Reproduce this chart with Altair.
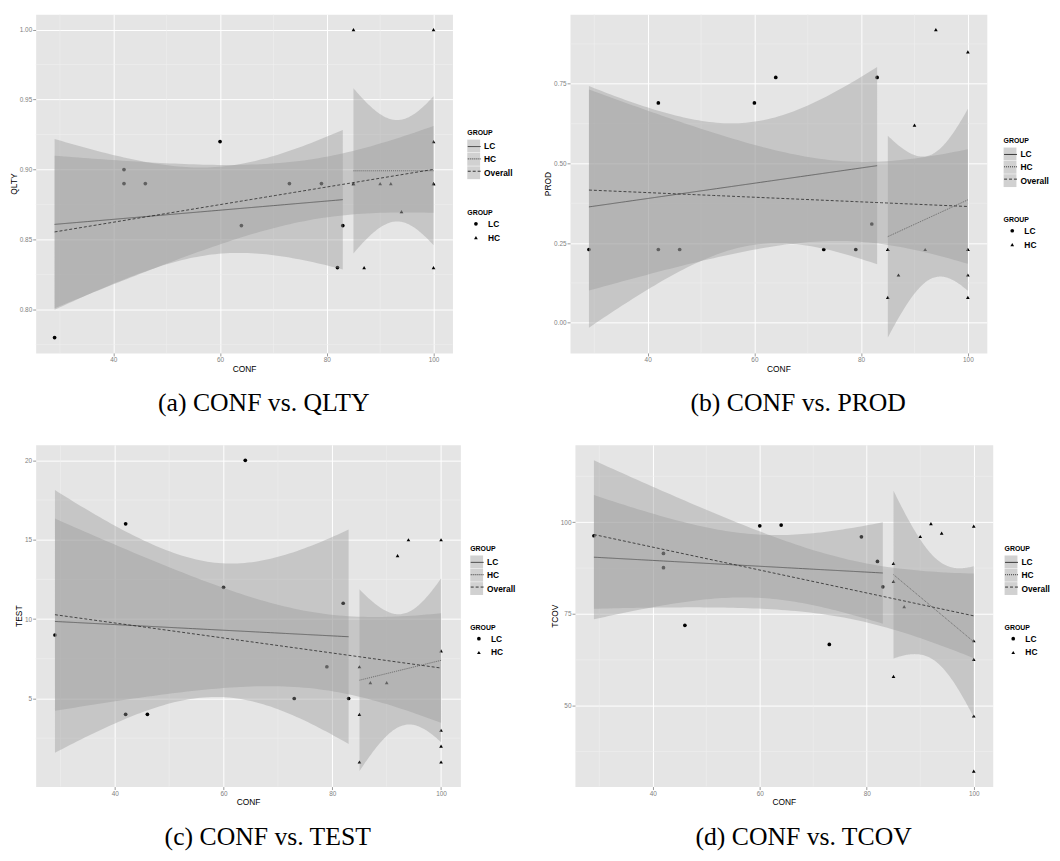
import altair as alt
import numpy as np
import pandas as pd

# ---------------- data ----------------
CONF_LC = [29, 42, 42, 46, 60, 64, 73, 79, 82, 83]
CONF_HC = [85, 85, 85, 87, 90, 92, 94, 100, 100, 100, 100, 100]

QLTY_LC = [0.78, 0.90, 0.89, 0.89, 0.92, 0.86, 0.89, 0.89, 0.83, 0.86]
QLTY_HC = [1.00, 0.89, 0.89, 0.83, 0.89, 0.89, 0.87, 1.00, 0.92, 0.89, 0.89, 0.83]

PROD_LC = [0.23, 0.69, 0.23, 0.23, 0.69, 0.77, 0.23, 0.23, 0.31, 0.77]
PROD_HC = [0.23, 0.23, 0.08, 0.15, 0.62, 0.23, 0.92, 0.85, 0.23, 0.23, 0.15, 0.08]

TEST_LC = [9, 16, 4, 4, 12, 20, 5, 7, 11, 5]
TEST_HC = [7, 4, 1, 6, 6, 14, 15, 15, 8, 3, 2, 1]

TCOV_LC = [96.3, 91.5, 87.6, 71.9, 99.0, 99.2, 66.7, 96.0, 89.3, 82.4]
TCOV_HC = [88.8, 83.9, 58.0, 77.0, 96.1, 99.6, 97.0, 98.9, 67.7, 62.6, 47.2, 32.2]

X_TICKS = [40, 60, 80, 100]
X_MINOR = [30, 50, 70, 90]

SERIES = ["LC", "HC", "Overall"]
SERIES_KEY = ["LC ", "HC ", "Overall "]   # separate domain for the line-type keys
GROUPS = ["LC", "HC"]

# t quantiles (0.975) for the lm confidence band
T975 = {8: 2.306004, 10: 2.228139, 20: 2.085963}


def smooth(x, y, label):
    x = np.asarray(x, float)
    y = np.asarray(y, float)
    n = len(x)
    xm, ym = x.mean(), y.mean()
    sxx = ((x - xm) ** 2).sum()
    b = ((x - xm) * (y - ym)).sum() / sxx
    a = ym - b * xm
    s = np.sqrt(((y - a - b * x) ** 2).sum() / (n - 2))
    g = np.linspace(x.min(), x.max(), 80)
    fit = a + b * g
    se = s * np.sqrt(1.0 / n + (g - xm) ** 2 / sxx)
    t = T975[n - 2]
    return pd.DataFrame({"conf": g, "fit": fit, "lo": fit - t * se,
                         "hi": fit + t * se, "series": label, "key": label + " "})


XDOM = [29 - 0.05 * 71, 100 + 0.05 * 71]
FONT = "Liberation Sans"


def panel(name, ylc, yhc, yticks, yminor, yfmt, caption, w, h, lx, ly1, ly2):
    pts = pd.DataFrame({
        "conf": CONF_LC + CONF_HC,
        "value": ylc + yhc,
        "group": ["LC"] * len(ylc) + ["HC"] * len(yhc),
    })
    bands = pd.concat([
        smooth(CONF_LC, ylc, "LC"),
        smooth(CONF_HC, yhc, "HC"),
        smooth(CONF_LC + CONF_HC, ylc + yhc, "Overall"),
    ], ignore_index=True)
    lo = min(pts["value"].min(), bands["lo"].min())
    hi = max(pts["value"].max(), bands["hi"].max())
    pad = (hi - lo) * 0.05
    ydom = [lo - pad, hi + pad]

    xs = alt.Scale(domain=XDOM, nice=False, zero=False)
    ys = alt.Scale(domain=ydom, nice=False, zero=False)
    xax = alt.Axis(values=X_TICKS, title="CONF", format="d")
    yax = alt.Axis(values=yticks, title=name, format=yfmt)

    leg_fill = alt.Legend(title="GROUP", orient="none", legendX=lx, legendY=ly1,
                          symbolType="square", symbolSize=169, symbolOpacity=0.45,
                          symbolStrokeWidth=0, labelOffset=4, rowPadding=0.5, zindex=0)
    leg_dash = alt.Legend(title="GROUP", orient="none", legendX=lx, legendY=ly1,
                          symbolType="stroke", symbolSize=169, symbolStrokeColor="#333333",
                          symbolStrokeWidth=1, titleOpacity=0, labelOpacity=0,
                          labelOffset=4, rowPadding=0.5, zindex=1)
    leg_shape = alt.Legend(title="GROUP", orient="none", legendX=lx, legendY=ly2,
                           symbolSize=14, symbolFillColor="black", symbolStrokeWidth=0,
                           symbolOpacity=1, symbolOffset=4.5, labelOffset=8, rowPadding=5)

    minor_x = alt.Chart(pd.DataFrame({"v": X_MINOR})).mark_rule(
        color="#F0F0F0", strokeWidth=0.6).encode(x=alt.X("v:Q", scale=xs, axis=xax))
    minor_y = alt.Chart(pd.DataFrame({"v": yminor})).mark_rule(
        color="#F0F0F0", strokeWidth=0.6).encode(y=alt.Y("v:Q", scale=ys, axis=yax))

    points = alt.Chart(pts).mark_point(filled=True, size=14, color="black", opacity=1).encode(
        x=alt.X("conf:Q", scale=xs, axis=xax),
        y=alt.Y("value:Q", scale=ys, axis=yax),
        shape=alt.Shape("group:N", scale=alt.Scale(domain=GROUPS, range=["circle", "triangle-up"]),
                        legend=leg_shape),
    )

    layers = [minor_x, minor_y, points]
    for s in SERIES:
        base = alt.Chart(bands).transform_filter(alt.datum.series == s)
        band = base.mark_area(opacity=0.4).encode(
            x=alt.X("conf:Q", scale=xs, axis=xax),
            y=alt.Y("lo:Q", scale=ys, axis=yax),
            y2="hi:Q",
            fill=alt.Fill("series:N", scale=alt.Scale(domain=SERIES, range=["#999999"] * 3),
                          legend=leg_fill),
        )
        line = base.mark_line(color="#262626", strokeWidth=0.8).encode(
            x=alt.X("conf:Q", scale=xs, axis=xax),
            y=alt.Y("fit:Q", scale=ys, axis=yax),
            strokeDash=alt.StrokeDash("key:N",
                                      scale=alt.Scale(domain=SERIES_KEY,
                                                      range=[[1, 0], [1, 1], [3, 2]]),
                                      legend=leg_dash),
        )
        layers += [band, line]

    return alt.layer(*layers).properties(
        width=w, height=h,
        title=alt.TitleParams(caption, orient="bottom", anchor="middle", frame="group",
                              dx=20, offset=18, font="Liberation Serif", fontSize=26,
                              fontWeight="normal", color="black"),
    )


pa = panel("QLTY", QLTY_LC, QLTY_HC, [0.80, 0.85, 0.90, 0.95, 1.00],
           [0.775, 0.825, 0.875, 0.925, 0.975], ".2f", "(a) CONF vs. QLTY",
           422, 343, 437, 116, 197)
pb = panel("PROD", PROD_LC, PROD_HC, [0.00, 0.25, 0.50, 0.75],
           [0.125, 0.375, 0.625, 0.875], ".2f", "(b) CONF vs. PROD",
           422, 343, 439, 124, 204)
pc = panel("TEST", TEST_LC, TEST_HC, [5, 10, 15, 20],
           [2.5, 7.5, 12.5, 17.5], "d", "(c) CONF vs. TEST",
           430, 346, 440, 101, 181)
pd_ = panel("TCOV", TCOV_LC, TCOV_HC, [50, 75, 100],
            [37.5, 62.5, 87.5, 112.5], "d", "(d) CONF vs. TCOV",
            423, 346, 435, 101, 181)

res = dict(shape="independent", fill="independent", strokeDash="independent")
row1 = alt.hconcat(pa, pb, spacing=28).resolve_scale(**res)
row2 = alt.hconcat(pc, pd_, spacing=32).resolve_scale(**res)

chart = alt.vconcat(row1, row2, spacing=27).resolve_scale(**res).properties(
    padding={"left": 0, "top": 0, "right": 0, "bottom": 0}
).configure_view(
    fill="#E5E5E5", stroke="transparent"
).configure_axis(
    domain=False, grid=True, gridColor="#FFFFFF", gridWidth=1,
    ticks=True, tickColor="#7F7F7F", tickSize=3, tickWidth=0.8,
    labelColor="#808080", labelFont=FONT, labelFontSize=6.5, labelPadding=1,
    titleFont=FONT, titleFontSize=8.5, titleFontWeight="normal", titleColor="black",
    titlePadding=1,
).configure_legend(
    titleFont=FONT, titleFontSize=7, titleFontWeight="bold", titleColor="black",
    titlePadding=4, labelFont=FONT, labelFontSize=8.5, labelFontWeight="bold",
    labelColor="black", padding=0,
)

chart.save("out.html", embed_options={"renderer": "svg", "actions": False})
